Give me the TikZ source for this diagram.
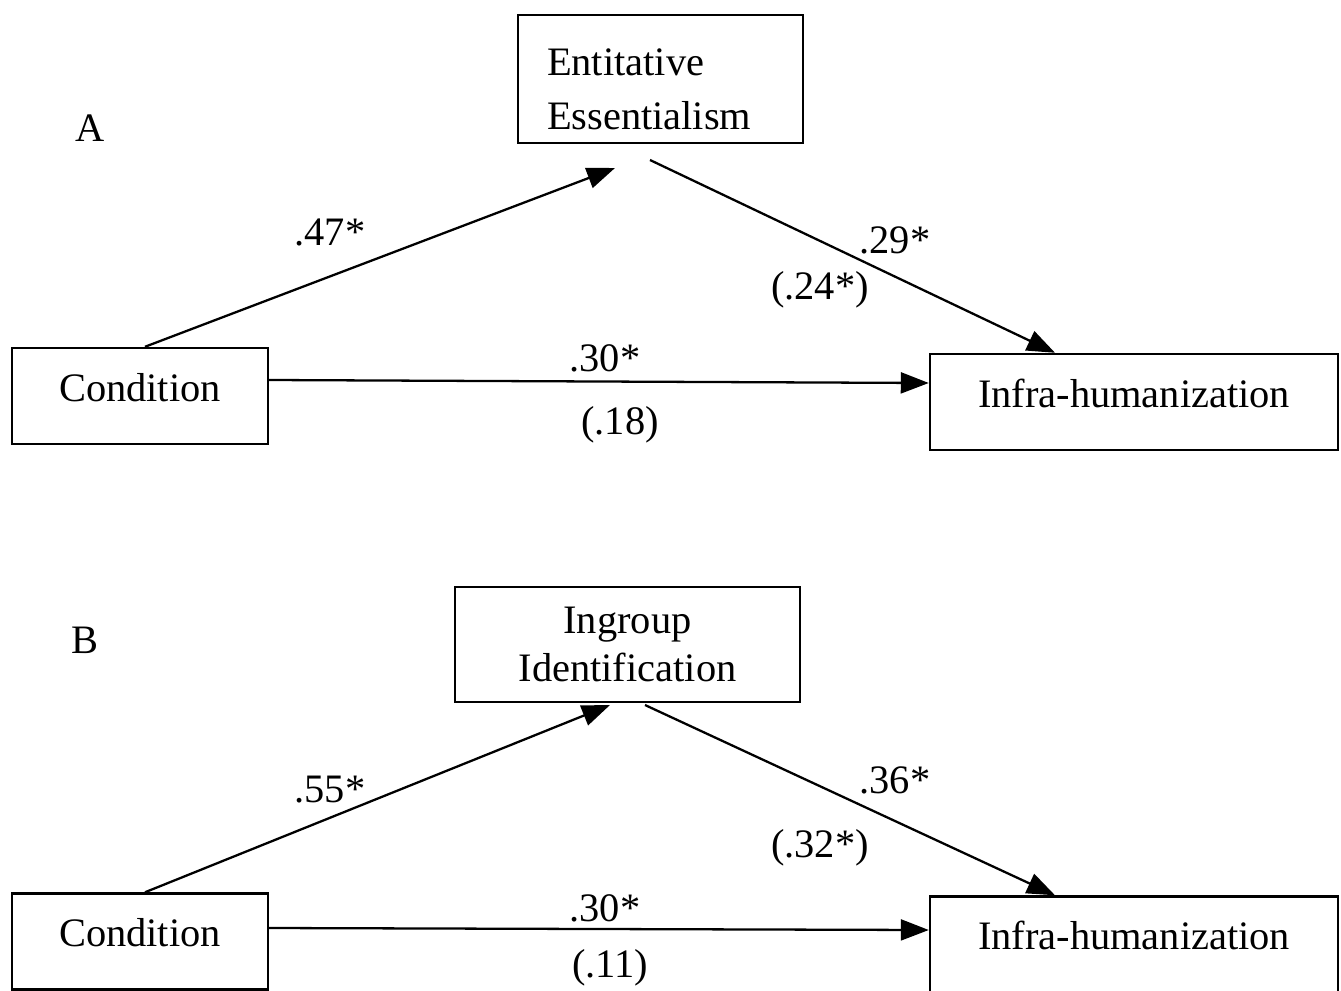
\documentclass[tikz,border=0pt]{standalone}
\usepackage{fontspec}
\setmainfont{Liberation Serif}
\usepackage{tikz}
\usetikzlibrary{positioning,arrows.meta,calc}

\begin{document}
\begin{tikzpicture}[
  box/.style={draw, line width=1.4pt, inner sep=2pt,
    font=\fontsize{23}{29}\selectfont},
  onebox/.style={box, minimum height=1.92cm, text depth=0.36cm},
  arrow/.style={-{Triangle[length=0.56cm,width=0.42cm]}, line width=1.3pt},
  lbl/.style={font=\fontsize{23}{28}\selectfont, inner sep=1pt}
]
\useasboundingbox (0,0) rectangle (26.82,-19.8);
\clip (0,0) rectangle (26.82,-19.8);

% panel A
\node[lbl] (tagA) at (1.8,-2.56) {A};
\node[box, minimum height=2.56cm, text width=4.54cm, inner xsep=0.58cm,
  align=left, font=\fontsize{23}{31}\selectfont] (entA) at (13.21,-1.58)
  {\rule{0pt}{0.95cm}Entitative\\Essentialism};
\node[onebox, minimum width=5.12cm] (condA) at (2.8,-7.92) {Condition};
\node[onebox, minimum width=8.16cm] (infraA) at (22.68,-8.04) {Infra-humanization};
\coordinate (entInA) at (12.3,-3.36);
\coordinate (entOutA) at (13.0,-3.2);
\coordinate (infraInA) at ($(infraA.north)+(-1.58,0)$);

\draw[arrow] ([xshift=0.1cm]condA.north) -- (entInA);
\draw[arrow] (entOutA) -- (infraInA);
\draw[arrow] ([yshift=0.32cm]condA.east) -- ([yshift=0.38cm]infraA.west);
\node[lbl] (aA) at (6.6,-4.64) {.47*};
\node[lbl] (bA) at (17.9,-4.8) {.29*};
\node[lbl] (bpA) at (16.4,-5.8) {(.24*)};
\node[lbl] (cA) at (12.1,-7.16) {.30*};
\node[lbl] (cpA) at (12.4,-8.5) {(.18)};

% panel B
\node[lbl] (tagB) at (1.7,-12.8) {B};
\node[box, minimum width=6.9cm, minimum height=2.3cm, align=center,
  font=\fontsize{23}{27}\selectfont] (ingB) at (12.55,-12.89) {Ingroup\\Identification};
\node[onebox, minimum width=5.12cm] (condB) at (2.8,-18.83) {Condition};
\node[onebox, minimum width=8.16cm] (infraB) at (22.68,-18.89) {Infra-humanization};
\coordinate (ingInB) at (12.2,-14.1);
\coordinate (ingOutB) at (12.9,-14.1);
\coordinate (infraInB) at ($(infraB.north)+(-1.58,0)$);

\draw[arrow] ([xshift=0.1cm]condB.north) -- (ingInB);
\draw[arrow] (ingOutB) -- (infraInB);
\draw[arrow] ([yshift=0.27cm]condB.east) -- ([yshift=0.29cm]infraB.west);
\node[lbl] (aB) at (6.6,-15.8) {.55*};
\node[lbl] (bB) at (17.9,-15.6) {.36*};
\node[lbl] (bpB) at (16.4,-16.96) {(.32*)};
\node[lbl] (cB) at (12.1,-18.16) {.30*};
\node[lbl] (cpB) at (12.2,-19.36) {(.11)};
\end{tikzpicture}
\end{document}
